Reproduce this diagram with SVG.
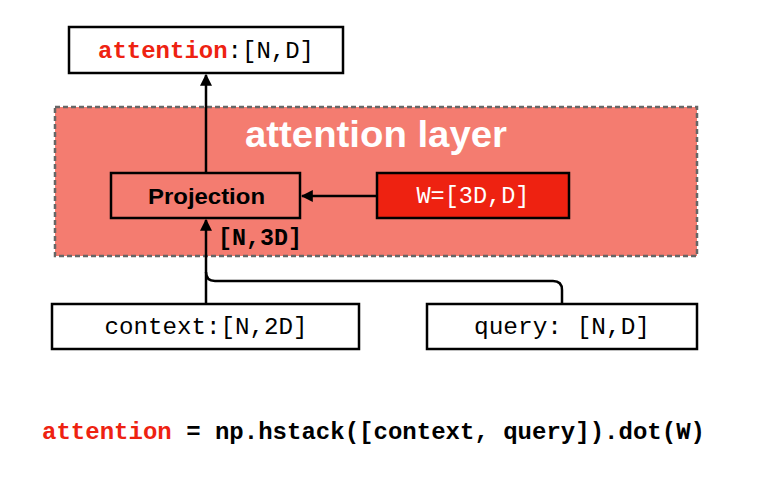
<svg xmlns="http://www.w3.org/2000/svg" width="763" height="478" viewBox="0 0 763 478">
<defs>
<marker id="ah" viewBox="0 0 10 10" refX="9" refY="5" markerWidth="12" markerHeight="12" markerUnits="userSpaceOnUse" orient="auto">
<path d="M0,0 L10,5 L0,10 z" fill="#000"/>
</marker>
<style>
.box{fill:#fff;stroke:#000;stroke-width:2.5}
.mono{font-family:"Liberation Mono","Courier New",monospace;font-size:23px}
.b{font-weight:bold}
.red{fill:#ee2211}
.conn{fill:none;stroke:#000;stroke-width:2.5}
</style>
</defs>
<rect width="763" height="478" fill="#fff"/>
<g id="layer">
<rect x="55" y="107" width="642" height="149" fill="#f47c70" stroke="#666" stroke-width="2.5" stroke-dasharray="5,3"/>
<text x="245" y="147" font-family="'Liberation Sans',Arial,sans-serif" font-weight="bold" font-size="36" fill="#fff" textLength="262" lengthAdjust="spacingAndGlyphs">attention layer</text>
</g>
<g id="output">
<rect class="box" x="69" y="27" width="274" height="46"/>
<text class="mono" x="98" y="58" textLength="216" lengthAdjust="spacingAndGlyphs"><tspan class="b red">attention</tspan>:[N,D]</text>
</g>
<g id="projection">
<rect x="111" y="173" width="189" height="45" fill="#f47c70" stroke="#000" stroke-width="2.5"/>
<text x="148" y="204" font-family="'Liberation Sans',Arial,sans-serif" font-weight="bold" font-size="22" textLength="117" lengthAdjust="spacingAndGlyphs">Projection</text>
</g>
<g id="weights">
<rect x="377" y="173" width="192" height="45" fill="#ee2211" stroke="#000" stroke-width="2.5"/>
<text class="mono" x="473" y="203" text-anchor="middle" fill="#fff" textLength="113" lengthAdjust="spacingAndGlyphs">W=[3D,D]</text>
</g>
<g id="context">
<rect class="box" x="52" y="304" width="307" height="45"/>
<text class="mono" x="206" y="334" text-anchor="middle" textLength="203" lengthAdjust="spacingAndGlyphs">context:[N,2D]</text>
</g>
<g id="query">
<rect class="box" x="427" y="304" width="270" height="45"/>
<text class="mono" x="562" y="334" text-anchor="middle" textLength="176" lengthAdjust="spacingAndGlyphs">query: [N,D]</text>
</g>
<g id="connectors">
<line class="conn" x1="206" y1="173" x2="206" y2="75" marker-end="url(#ah)"/>
<line class="conn" x1="377" y1="196" x2="302" y2="196" marker-end="url(#ah)"/>
<line class="conn" x1="206" y1="304" x2="206" y2="220" marker-end="url(#ah)"/>
<path class="conn" d="M562,304 L562,290 Q562,281 553,281 L215,281 Q206,281 206,272"/>
<text class="mono b" x="218" y="245" textLength="84" lengthAdjust="spacingAndGlyphs">[N,3D]</text>
</g>
<g id="formula">
<text class="mono b" x="42" y="439" textLength="663" lengthAdjust="spacingAndGlyphs"><tspan class="red">attention</tspan> = np.hstack([context, query]).dot(W)</text>
</g>
</svg>
